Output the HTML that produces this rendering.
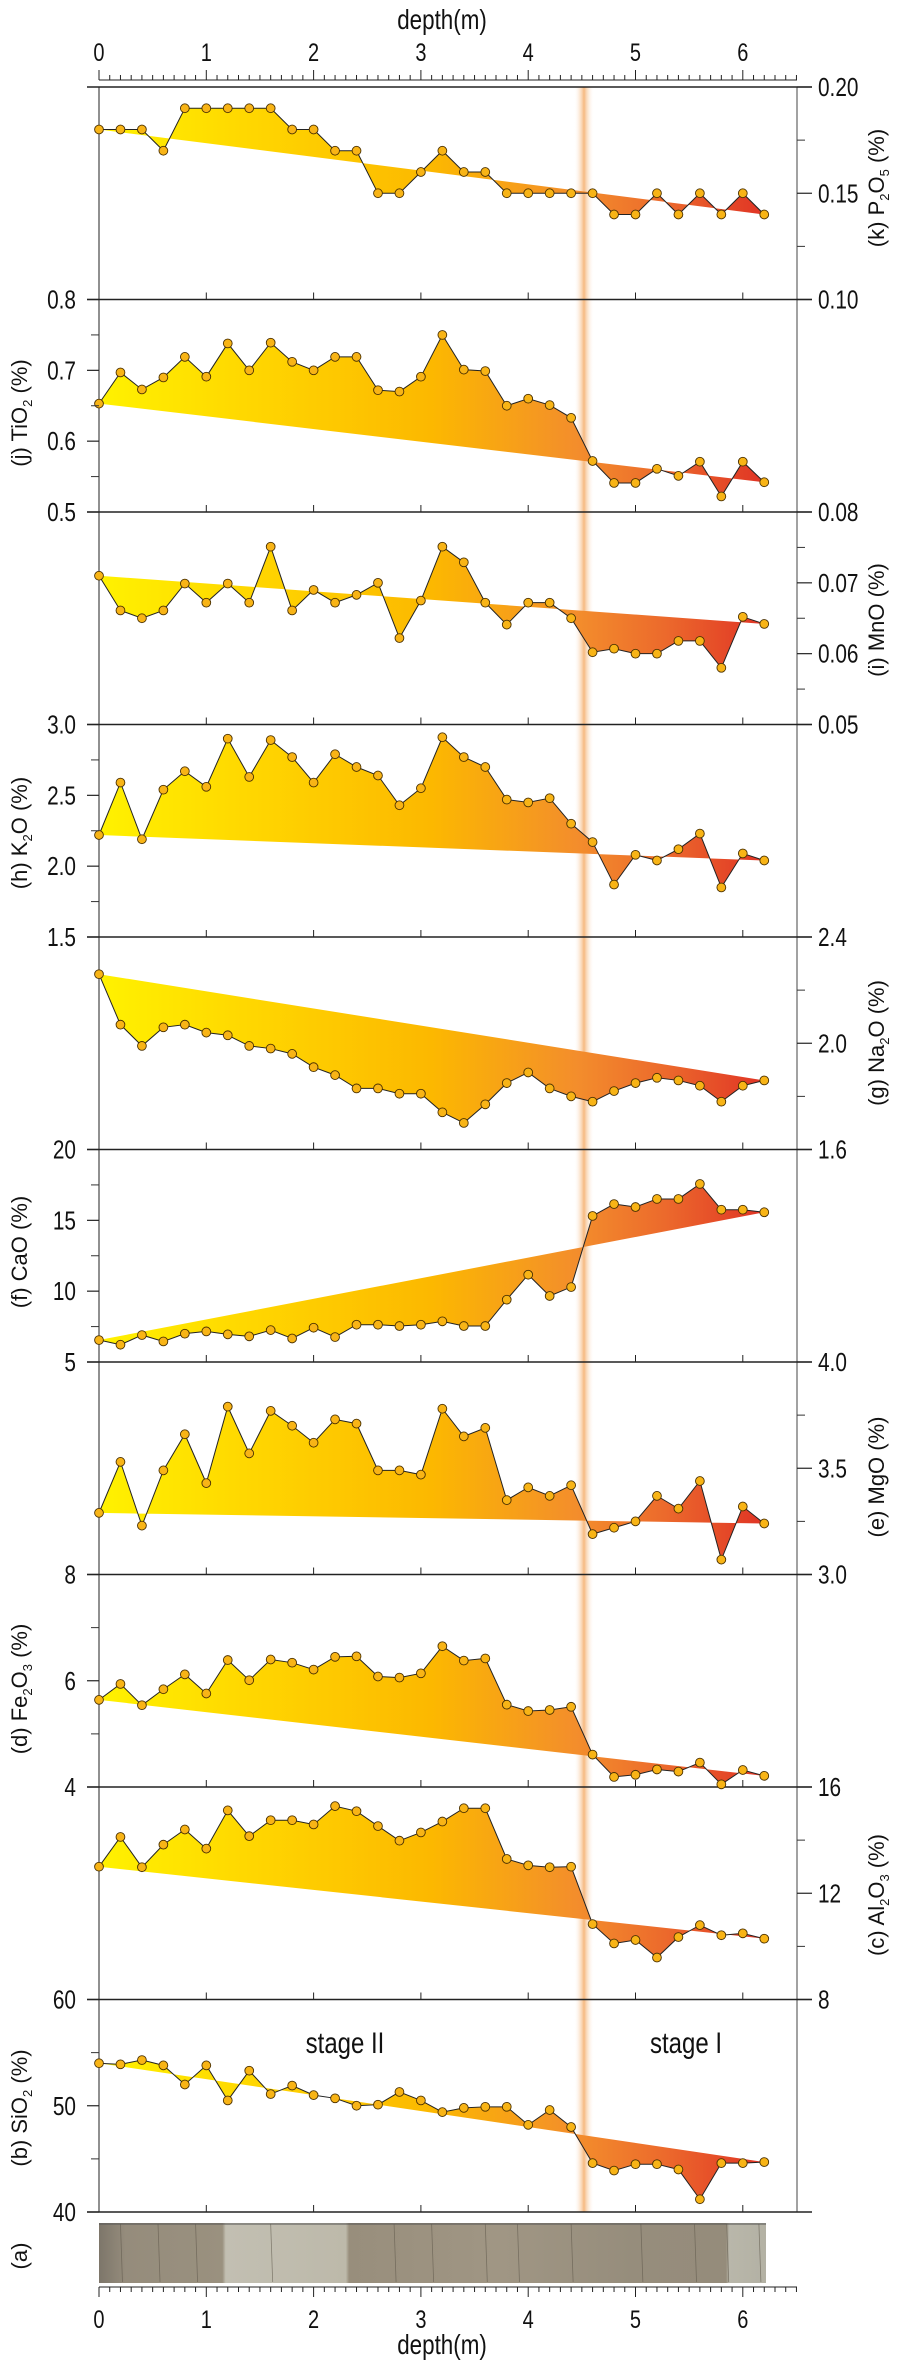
<!DOCTYPE html>
<html><head><meta charset="utf-8"><style>
html,body{margin:0;padding:0;background:#fff;}
svg{display:block;}
text{font-family:"Liberation Sans Narrow","Liberation Sans",sans-serif;fill:#111;}
.lab{font-family:"Liberation Sans",sans-serif;font-size:22px;}
</style></head><body>
<svg id="chart" width="902" height="2366" viewBox="0 0 902 2366" xmlns="http://www.w3.org/2000/svg">
<defs>
<linearGradient id="fillGrad" gradientUnits="userSpaceOnUse" x1="99" y1="0" x2="764" y2="0">
<stop offset="0" stop-color="#fff200"/><stop offset="0.25" stop-color="#ffd400"/><stop offset="0.5" stop-color="#fcb800"/><stop offset="0.72" stop-color="#f38d2c"/><stop offset="0.85" stop-color="#ec6a2c"/><stop offset="1" stop-color="#e03425"/>
</linearGradient>
<linearGradient id="bandGrad" x1="0" y1="0" x2="1" y2="0">
<stop offset="0" stop-color="#fff" stop-opacity="0"/><stop offset="0.5" stop-color="#f6b980"/><stop offset="1" stop-color="#fff" stop-opacity="0"/>
</linearGradient>
<linearGradient id="coreGrad" gradientUnits="userSpaceOnUse" x1="99" y1="0" x2="766" y2="0">
<stop offset="0" stop-color="#7d766a"/><stop offset="0.04" stop-color="#958c7c"/><stop offset="0.185" stop-color="#9a917f"/><stop offset="0.19" stop-color="#c2bfb2"/><stop offset="0.37" stop-color="#bdb9aa"/><stop offset="0.375" stop-color="#988e7c"/><stop offset="0.6" stop-color="#a09684"/><stop offset="0.8" stop-color="#968d7c"/><stop offset="0.94" stop-color="#958c7b"/><stop offset="0.945" stop-color="#b9b7aa"/><stop offset="1" stop-color="#b3b1a4"/>
</linearGradient>
</defs>
<g id="layer"></g>
</svg>
<script>
const depths=[0,0.2,0.4,0.6,0.8,1.0,1.2,1.4,1.6,1.8,2.0,2.2,2.4,2.6,2.8,3.0,3.2,3.4,3.6,3.8,4.0,4.2,4.4,4.6,4.8,5.0,5.2,5.4,5.6,5.8,6.0,6.2];
const p2o5=[0.18,0.18,0.18,0.17,0.19,0.19,0.19,0.19,0.19,0.18,0.18,0.17,0.17,0.15,0.15,0.16,0.17,0.16,0.16,0.15,0.15,0.15,0.15,0.15,0.14,0.14,0.15,0.14,0.15,0.14,0.15,0.14];
const tio2=[0.653,0.697,0.673,0.690,0.719,0.691,0.738,0.700,0.739,0.712,0.700,0.719,0.719,0.672,0.670,0.691,0.750,0.701,0.699,0.650,0.660,0.651,0.633,0.572,0.541,0.541,0.561,0.551,0.571,0.522,0.571,0.542];
const mno=[0.0710,0.0661,0.0650,0.0661,0.0699,0.0672,0.0699,0.0672,0.0751,0.0661,0.0690,0.0672,0.0683,0.0700,0.0622,0.0675,0.0751,0.0729,0.0672,0.0641,0.0672,0.0672,0.0650,0.0602,0.0607,0.0600,0.0600,0.0618,0.0618,0.0580,0.0652,0.0642];
const k2o=[2.22,2.59,2.19,2.54,2.67,2.56,2.90,2.63,2.89,2.77,2.59,2.79,2.70,2.64,2.43,2.55,2.91,2.77,2.70,2.47,2.45,2.48,2.30,2.17,1.87,2.08,2.04,2.12,2.23,1.85,2.09,2.04];
const na2o=[2.26,2.07,1.99,2.06,2.07,2.04,2.03,1.99,1.98,1.96,1.91,1.88,1.83,1.83,1.81,1.81,1.74,1.70,1.77,1.85,1.89,1.83,1.80,1.78,1.82,1.85,1.87,1.86,1.84,1.78,1.84,1.86];
const cao=[6.55,6.22,6.90,6.45,7.0,7.16,6.95,6.81,7.25,6.66,7.42,6.76,7.63,7.63,7.54,7.63,7.87,7.54,7.54,9.40,11.16,9.66,10.29,15.31,16.15,15.94,16.51,16.51,17.57,15.75,15.75,15.57];
const mgo=[3.29,3.53,3.23,3.49,3.66,3.43,3.79,3.57,3.77,3.70,3.62,3.73,3.71,3.49,3.49,3.47,3.78,3.65,3.69,3.35,3.41,3.37,3.42,3.19,3.22,3.25,3.37,3.31,3.44,3.07,3.32,3.24];
const fe2o3=[5.64,5.94,5.54,5.84,6.12,5.76,6.39,6.01,6.40,6.34,6.21,6.45,6.46,6.08,6.06,6.14,6.65,6.38,6.42,5.55,5.43,5.45,5.51,4.61,4.19,4.23,4.33,4.29,4.46,4.05,4.32,4.21];
const al2o3=[13.0,14.12,12.98,13.83,14.40,13.68,15.12,14.15,14.75,14.75,14.59,15.28,15.09,14.53,13.98,14.29,14.70,15.20,15.20,13.29,13.05,12.98,13.0,10.84,10.11,10.24,9.58,10.35,10.80,10.42,10.49,10.29];
const sio2=[54.0,53.9,54.3,53.8,52.0,53.8,50.5,53.3,51.1,51.9,51.0,50.7,50.0,50.1,51.3,50.5,49.4,49.8,49.9,49.9,48.2,49.6,48.0,44.6,43.9,44.5,44.5,44.0,41.2,44.6,44.6,44.7];
const depthTicks=[0,1,2,3,4,5,6];
const panelNames=["p2o5","tio2","mno","k2o","na2o","cao","mgo","fe2o3","al2o3","sio2"];
const panelLetters=["(k)","(j)","(i)","(h)","(g)","(f)","(e)","(d)","(c)","(b)"];
const panelChem=[["P","2","O","5"],["TiO","2"],["MnO"],["K","2","O"],["Na","2","O"],["CaO"],["MgO"],["Fe","2","O","3"],["Al","2","O","3"],["SiO","2"]];
const panelMin=[0.10,0.5,0.05,1.5,1.6,5,3.0,4,8,40];
const panelMax=[0.20,0.8,0.08,3.0,2.4,20,4.0,8,16,60];
const panelMajor=[["0.20","0.15","0.10"],["0.8","0.7","0.6","0.5"],["0.08","0.07","0.06","0.05"],["3.0","2.5","2.0","1.5"],["2.4","2.0","1.6"],["20","15","10","5"],["4.0","3.5","3.0"],["8","6","4"],["16","12","8"],["60","50","40"]];
const panelSide=["right","left","right","left","right","left","right","left","right","left"];
const panelLabelY=[188,413,620,833,1043,1252,1477,1689,1895,2108];
const series=[p2o5,tio2,mno,k2o,na2o,cao,mgo,fe2o3,al2o3,sio2];

const NS="http://www.w3.org/2000/svg";
const L=document.getElementById('layer');
const X0=99,PXM=107.3,TOP=87,PH=212.5,XR=797,SX=0.8;
function xs(d){return X0+d*PXM;}
function ys(i,v){return TOP+PH*i+(panelMax[i]-v)/(panelMax[i]-panelMin[i])*PH;}
function mk(tag,attrs,parent){const e=document.createElementNS(NS,tag);for(const k in attrs)e.setAttribute(k,attrs[k]);(parent||L).appendChild(e);return e;}
function ntext(x,y,anchor,size,parent){return mk('text',{x:0,y:0,'text-anchor':anchor,'font-size':size,transform:'translate('+x+','+y+') scale('+SX+',1)'},parent);}

let band=mk('rect',{x:xs(4.52)-10,y:TOP,width:20,height:PH*10,fill:'url(#bandGrad)'});



let la=mk('line',{x1:X0,y1:TOP,x2:X0,y2:TOP+PH*10,stroke:'#222','stroke-width':1});


let ra=mk('line',{x1:XR,y1:TOP,x2:XR,y2:TOP+PH*10,stroke:'#444','stroke-width':1});


for(let k=0;k<=10;k++){
  const y=TOP+PH*k;
  let b=mk('line',{x1:87,y1:y,x2:812,y2:y,stroke:'#222','stroke-width':1.5});
  
  
  if(k>0){depthTicks.forEach(d=>{if(d>0){let t=mk('line',{x1:xs(d),y1:y,x2:xs(d),y2:y-7,stroke:'#222','stroke-width':1});
    
    }});}
}
function depthAxis(yAxis,dir,labelY,titleY,nm){
  let ax=mk('line',{x1:X0,y1:yAxis,x2:XR,y2:yAxis,stroke:'#222','stroke-width':1});
  
  
  for(let i=0;i<=65;i++){const d=i/10;const major=i%10===0;
    let t=mk('line',{x1:xs(d),y1:yAxis,x2:xs(d),y2:yAxis+dir*(major?10:5),stroke:'#222','stroke-width':1});
    
    }
  depthTicks.forEach(d=>{let t=ntext(xs(d),labelY,'middle',25);t.textContent=String(d);
    
    });
  let tt=ntext(442,titleY,'middle',28);tt.textContent='depth(m)';
  
  
}
depthAxis(80,-1,61,29,'top-depth');
depthAxis(2287,1,2328,2354,'bottom-depth');

series.forEach((vals,i)=>{
  const g=mk('g',{});
  
  
  const n=vals.length;
  let d='M'+xs(depths[0])+','+ys(i,vals[0]);
  for(let j=1;j<n;j++)d+=' L'+xs(depths[j])+','+ys(i,vals[j]);
  d+=' Z';
  let f=mk('path',{d:d,fill:'url(#fillGrad)',stroke:'none'},g);
  
  
  let pts=depths.map((dd,j)=>xs(dd)+','+ys(i,vals[j])).join(' ');
  let pl=mk('polyline',{points:pts,fill:'none',stroke:'#222','stroke-width':1},g);
  
  
  depths.forEach((dd,j)=>{
    let c=mk('circle',{cx:xs(dd),cy:ys(i,vals[j]),r:4.4,fill:'#f8b416',stroke:'#4a3000','stroke-width':0.9},g);
    
    
  });
  const side=panelSide[i];
  const majors=panelMajor[i].map(Number);
  const step=majors[0]-majors[1];
  for(let m=0;m<majors.length-1;m++){
    const v=majors[m]-step/2;const y=ys(i,v);
    let t=side==='left'?mk('line',{x1:X0-8,y1:y,x2:X0,y2:y,stroke:'#333','stroke-width':1},g):mk('line',{x1:XR,y1:y,x2:XR+8,y2:y,stroke:'#333','stroke-width':1},g);
    
    
  }
  panelMajor[i].forEach(lbl=>{
    const y=ys(i,Number(lbl));
    let t=side==='left'?mk('line',{x1:87,y1:y,x2:X0,y2:y,stroke:'#222','stroke-width':1.2},g):mk('line',{x1:XR,y1:y,x2:812,y2:y,stroke:'#222','stroke-width':1.2},g);
    
    
    let tx=side==='left'?ntext(76,y+9,'end',26,g):ntext(818,y+9,'start',26,g);
    tx.textContent=lbl;
    
    
  });
  const lx=side==='left'?27:884;
  const ly=panelLabelY[i];
  let tt=mk('text',{x:0,y:0,'text-anchor':'middle','class':'lab',transform:'translate('+lx+','+ly+') rotate(-90)'},g);
  
  
  let s=mk('tspan',{},tt);s.textContent=panelLetters[i]+' ';
  panelChem[i].forEach((part,pi)=>{
    const isSub=/^[0-9]$/.test(part);
    let sp=mk('tspan',isSub?{'font-size':13,dy:5}:{dy:(pi>0&&/^[0-9]$/.test(panelChem[i][pi-1]))?-5:0},tt);
    sp.textContent=part;
  });
  let e=mk('tspan',{dy:(/^[0-9]$/.test(panelChem[i][panelChem[i].length-1]))?-5:0},tt);e.textContent=' (%)';
});

let s2=ntext(345,2053,'middle',30);s2.textContent='stage II';


let s1=ntext(686,2053,'middle',30);s1.textContent='stage I';



let core=mk('rect',{x:99,y:2223,width:667,height:60,fill:'url(#coreGrad)'});


const coreCracks=[0.2,0.55,0.9,1.6,2.75,3.1,3.6,3.9,4.4,5.05,5.55,5.85,6.15];
coreCracks.forEach(c=>{let l=mk('line',{x1:xs(c),y1:2224,x2:xs(c)+2,y2:2282,stroke:'#5d5649','stroke-width':0.8,opacity:0.6});
  
  });
let ct=mk('rect',{x:99,y:2223,width:667,height:2,fill:'#555',opacity:0.5});


let al=mk('text',{x:0,y:0,'text-anchor':'middle','class':'lab',transform:'translate(27,2256) rotate(-90)'});al.textContent='(a)';


</script>
</body></html>
